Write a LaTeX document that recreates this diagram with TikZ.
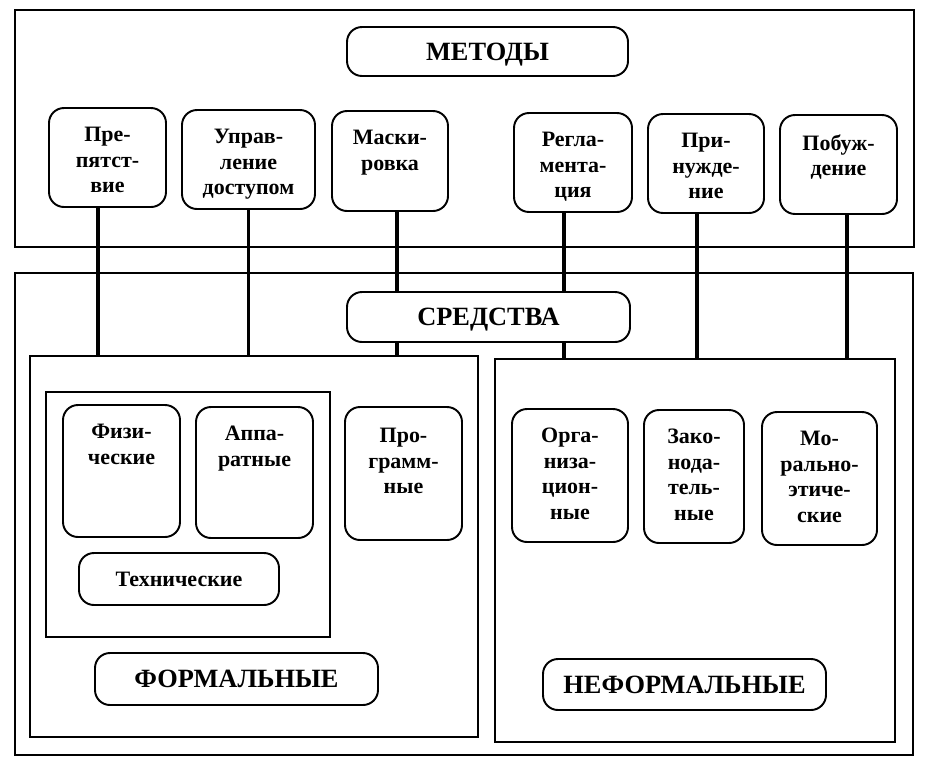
\documentclass[tikz,border=0pt]{standalone}
\usepackage{fontspec}
\setmainfont{Liberation Serif}
\usetikzlibrary{positioning}

\begin{document}
\begin{tikzpicture}[
  fr/.style={draw,line width=1.6pt,inner sep=0pt},
  box/.style={draw,rounded corners=3mm,line width=1.1pt,inner sep=0pt},
  lbl/.style={font=\bfseries\fontsize{12.5}{14.5}\selectfont,align=center,inner sep=0pt},
  big/.style={font=\bfseries\fontsize{15}{18}\selectfont,text height=9.9pt,text depth=0pt},
  conn/.style={line width=1.9pt}]
  \useasboundingbox (0,0) rectangle (18.5,-15.38);

  % methods
  \node[fr,minimum width=17.98cm,minimum height=4.74cm] (metfr) at (9.29,-2.57) {};
  \node[box,big,minimum width=5.62cm,minimum height=0.98cm] (metody) at (9.75,-1.03) {МЕТОДЫ};

  \node[box,minimum width=2.34cm,minimum height=1.98cm] (prep) at (2.15,-3.15) {};
  \node[lbl,below=4mm of prep.north] (prep-t) {Пре-\\пятст-\\вие};
  \node[box,minimum width=2.66cm,minimum height=1.98cm] (upr) at (4.97,-3.19) {};
  \node[lbl,below=4mm of upr.north] (upr-t) {Управ-\\ление\\доступом};
  \node[box,minimum width=2.32cm,minimum height=2cm] (mask) at (7.80,-3.22) {};
  \node[lbl,below=4mm of mask.north] (mask-t) {Маски-\\ровка};
  \node[box,minimum width=2.36cm,minimum height=1.98cm] (regl) at (11.46,-3.25) {};
  \node[lbl,below=4mm of regl.north] (regl-t) {Регла-\\мента-\\ция};
  \node[box,minimum width=2.32cm,minimum height=1.98cm] (prin) at (14.12,-3.27) {};
  \node[lbl,below=4mm of prin.north] (prin-t) {При-\\нужде-\\ние};
  \node[box,minimum width=2.34cm,minimum height=1.98cm] (pob) at (16.77,-3.29) {};
  \node[lbl,below=4mm of pob.north] (pob-t) {Побуж-\\дение};

  % means
  \node[fr,minimum width=17.96cm,minimum height=9.64cm] (sredfr) at (9.28,-10.28) {};
  \node[box,big,minimum width=5.66cm,minimum height=1cm] (sredstva) at (9.77,-6.34) {СРЕДСТВА};

  \node[fr,minimum width=8.96cm,minimum height=7.62cm] (formfr) at (5.08,-10.93) {};
  \node[fr,minimum width=5.68cm,minimum height=4.9cm] (techfr) at (3.76,-10.29) {};
  \node[box,minimum width=2.34cm,minimum height=2.64cm] (fiz) at (2.43,-9.42) {};
  \node[lbl,below=4mm of fiz.north] (fiz-t) {Физи-\\ческие};
  \node[box,minimum width=2.34cm,minimum height=2.62cm] (app) at (5.09,-9.45) {};
  \node[lbl,below=4mm of app.north] (app-t) {Аппа-\\ратные};
  \node[box,lbl,minimum width=4cm,minimum height=1.04cm] (tech) at (3.58,-11.58) {Технические};
  \node[box,minimum width=2.34cm,minimum height=2.66cm] (prog) at (8.07,-9.47) {};
  \node[lbl,below=4.4mm of prog.north] (prog-t) {Про-\\грамм-\\ные};
  \node[box,big,minimum width=5.66cm,minimum height=1.04cm] (formal) at (4.73,-13.58) {ФОРМАЛЬНЫЕ};

  \node[fr,minimum width=8cm,minimum height=7.66cm] (neformfr) at (13.90,-11.01) {};
  \node[box,minimum width=2.32cm,minimum height=2.66cm] (org) at (11.40,-9.51) {};
  \node[lbl,below=4mm of org.north] (org-t) {Орга-\\низа-\\цион-\\ные};
  \node[box,minimum width=2cm,minimum height=2.66cm] (zak) at (13.88,-9.53) {};
  \node[lbl,below=4mm of zak.north] (zak-t) {Зако-\\нода-\\тель-\\ные};
  \node[box,minimum width=2.3cm,minimum height=2.66cm] (moral) at (16.39,-9.57) {};
  \node[lbl,below=4mm of moral.north] (moral-t) {Мо-\\рально-\\этиче-\\ские};
  \node[box,big,minimum width=5.66cm,minimum height=1.02cm] (neformal) at (13.69,-13.69) {НЕФОРМАЛЬНЫЕ};

  % connectors
  \coordinate (c1) at ([xshift=-1.9mm]prep.south);
  \coordinate (c2) at (upr.south);
  \coordinate (c3) at ([xshift=1.4mm]mask.south);
  \coordinate (c4) at ([xshift=-1.8mm]regl.south);
  \coordinate (c5) at ([xshift=-1.8mm]prin.south);
  \coordinate (c6) at ([xshift=1.7mm]pob.south);

  \draw[conn] (c1) -- (c1 |- formfr.north);
  \draw[conn] (c2) -- (c2 |- formfr.north);
  \draw[conn] (c3) -- (c3 |- sredstva.north);
  \draw[conn] (c4) -- (c4 |- sredstva.north);
  \draw[conn] (c5) -- (c5 |- neformfr.north);
  \draw[conn] (c6) -- (c6 |- neformfr.north);
  \draw[conn] (c3 |- sredstva.south) -- (c3 |- formfr.north);
  \draw[conn] (c4 |- sredstva.south) -- (c4 |- neformfr.north);
\end{tikzpicture}
\end{document}
